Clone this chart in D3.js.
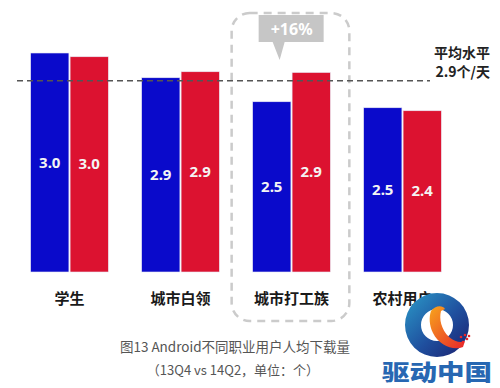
<!DOCTYPE html>
<html><head><meta charset="utf-8">
<script src="https://cdn.jsdelivr.net/npm/d3@7"></script>
<style>
html,body{margin:0;padding:0;background:#fff;}
svg{display:block;font-family:"Noto Sans","Noto Sans CJK SC",sans-serif;}
</style></head>
<body>
<svg id="chart" width="500" height="388"></svg>
<script>
// ---- data ----
const categories = ["学生", "城市白领", "城市打工族", "农村用户"];
const seriesNames = ["13Q4", "14Q2"];
const values13Q4 = [3.19, 2.86, 2.54, 2.46];   // bar heights as drawn
const values14Q2 = [3.14, 2.94, 2.93, 2.42];
const labels13Q4 = ["3.0", "2.9", "2.5", "2.5"]; // labels as printed
const labels14Q2 = ["3.0", "2.9", "2.9", "2.4"];
const averageValue = 2.82;
const averageLabel = ["平均水平", "2.9个/天"];
const highlightCategory = "城市打工族";
const highlightText = "+16%";
const captionLines = ["图13 Android不同职业用户人均下载量", "（13Q4 vs 14Q2，单位：个）"];
const colors = ["#0a0acb", "#dc1230"];

const svg = d3.select("#chart");
const baseY = 272;

const x = d3.scaleBand().domain(categories).range([14, 458]).paddingInner(0.3).paddingOuter(0.15);
const xs = d3.scaleBand().domain(seriesNames).range([0, x.bandwidth()]).paddingInner(0.03);
const y = d3.scaleLinear().domain([0.27, 3.5]).range([baseY, 29.75]);

const rows = categories.map((c, i) => ({
  cat: c,
  items: [
    {s: seriesNames[0], v: values13Q4[i], l: labels13Q4[i], c: colors[0]},
    {s: seriesNames[1], v: values14Q2[i], l: labels14Q2[i], c: colors[1]}
  ]
}));

// highlight dashed rounded rect
const hx = x(highlightCategory);
svg.append("rect")
  .attr("x", hx - 21).attr("y", 13)
  .attr("width", x.bandwidth() + 40).attr("height", 308)
  .attr("rx", 18).attr("ry", 18)
  .attr("fill", "none").attr("stroke", "#cbcbcb")
  .attr("stroke-width", 2.5).attr("stroke-dasharray", "8,6");

// bars
const g = svg.append("g").selectAll("g").data(rows).join("g")
  .attr("transform", d => `translate(${x(d.cat)},0)`);
g.selectAll("rect").data(d => d.items).join("rect")
  .attr("x", d => xs(d.s)).attr("width", xs.bandwidth())
  .attr("y", d => y(d.v)).attr("height", d => baseY - y(d.v))
  .attr("fill", d => d.c).attr("stroke", "#e8e8f4").attr("stroke-width", 0.6);
g.selectAll("text").data(d => d.items).join("text")
  .attr("x", d => xs(d.s) + xs.bandwidth() / 2)
  .attr("y", d => (y(d.v) + baseY) / 2 + 5)
  .attr("text-anchor", "middle").attr("fill", "#f4f4f4")
  .attr("font-size", 15).attr("font-weight", "bold")
  .text(d => d.l);

// average dashed line
svg.append("line")
  .attr("x1", 17).attr("x2", 430)
  .attr("y1", y(averageValue)).attr("y2", y(averageValue))
  .attr("stroke", "#555").attr("stroke-width", 1.5).attr("stroke-dasharray", "6,4");
svg.append("text").attr("x", 490).attr("y", 58).attr("text-anchor", "end")
  .attr("font-family", "Noto Sans CJK SC").attr("font-weight", "bold")
  .attr("font-size", 14).attr("fill", "#222").text(averageLabel[0]);
svg.append("text").attr("x", 490).attr("y", 77).attr("text-anchor", "end")
  .attr("font-family", "Noto Sans CJK SC").attr("font-weight", "bold")
  .attr("font-size", 14).attr("fill", "#222").text(averageLabel[1]);

// category labels
svg.append("g").selectAll("text").data(categories).join("text")
  .attr("x", d => x(d) + x.bandwidth() / 2).attr("y", 304)
  .attr("text-anchor", "middle").attr("font-family", "Noto Sans CJK SC")
  .attr("font-weight", "bold").attr("font-size", 15).attr("fill", "#1a1a1a")
  .text(d => d);

// callout
const cx0 = hx + 6;
svg.append("path")
  .attr("d", `M${cx0},15 H${cx0 + 65} V42 H${cx0 + 26} L${cx0 + 21},60 L${cx0 + 14},42 H${cx0} Z`)
  .attr("fill", "#c6c6c6");
svg.append("text").attr("x", cx0 + 33).attr("y", 35).attr("text-anchor", "middle")
  .attr("fill", "#fff").attr("font-size", 16).attr("font-weight", "bold")
  .text(highlightText);

// caption
svg.append("text").attr("x", 235).attr("y", 352).attr("text-anchor", "middle")
  .attr("font-family", "Noto Sans CJK SC").attr("font-size", 13.5).attr("fill", "#555")
  .text(captionLines[0]);
svg.append("text").attr("x", 233).attr("y", 375).attr("text-anchor", "middle")
  .attr("font-family", "Noto Sans CJK SC").attr("font-size", 13).attr("fill", "#555")
  .text(captionLines[1]);

// logo watermark
const defs = svg.append("defs");
const lg = defs.append("linearGradient").attr("id", "ring").attr("x1", "0").attr("y1", "0").attr("x2", "1").attr("y2", "1");
lg.append("stop").attr("offset", "0").attr("stop-color", "#2b9bc9");
lg.append("stop").attr("offset", "0.55").attr("stop-color", "#1f4f9e");
lg.append("stop").attr("offset", "1").attr("stop-color", "#1b1f6e");
const fg = defs.append("linearGradient").attr("id", "flame").attr("x1", "0").attr("y1", "0").attr("x2", "1").attr("y2", "1");
fg.append("stop").attr("offset", "0").attr("stop-color", "#f7a51c");
fg.append("stop").attr("offset", "1").attr("stop-color", "#e8262a");
const arc = d3.arc().innerRadius(16).outerRadius(32).startAngle(0).endAngle(2 * Math.PI);
const logo = svg.append("g").attr("transform", "translate(437,325)");
logo.append("path").attr("d", arc()).attr("fill", "url(#ring)");
logo.append("path")
  .attr("d", "M-6,-14 C-2,-20 6,-20 8,-16 L4,-14 C2,-6 4,4 12,12 C18,17 24,18 28,16 L26,22 C16,26 2,20 -4,8 C-8,0 -8,-8 -6,-14 Z")
  .attr("fill", "url(#flame)");
logo.selectAll("circle.d").data([[24,12],[28,10],[30,14],[26,17],[32,11]]).join("circle")
  .attr("cx", d => d[0]).attr("cy", d => d[1]).attr("r", 1.3).attr("fill", "#e8262a");
svg.append("text").attr("x", 437).attr("y", 380).attr("text-anchor", "middle")
  .attr("font-family", "Noto Sans CJK SC").attr("font-weight", "900")
  .attr("font-size", 22).attr("textLength", 110).attr("lengthAdjust", "spacingAndGlyphs")
  .attr("fill", "#2767b2").text("驱动中国");
</script>
</body></html>
